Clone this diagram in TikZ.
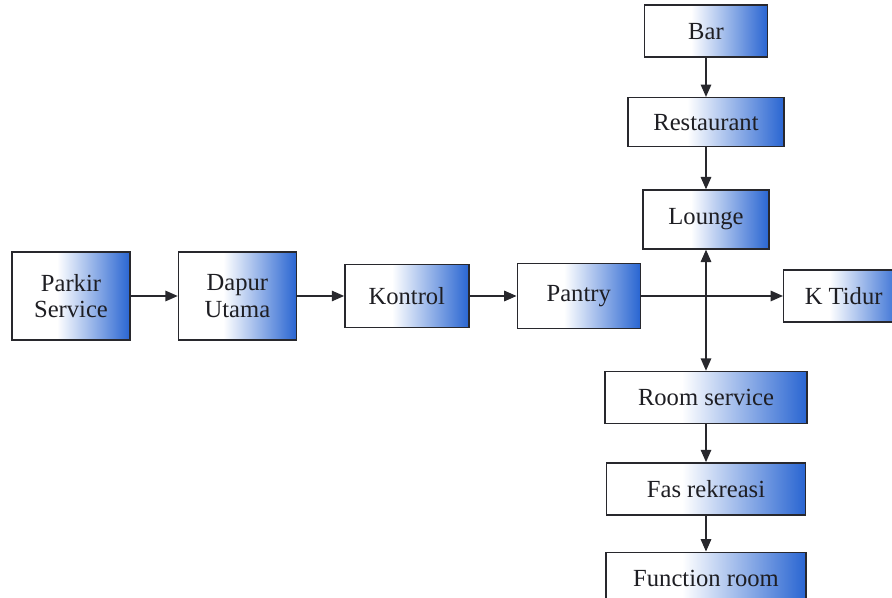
\documentclass[tikz,border=0pt]{standalone}
\usepackage{fontspec}
\setmainfont{Liberation Serif}
\newfontfamily\roomfont{Liberation Serif}
\usepackage{tikz}
\usetikzlibrary{arrows.meta,positioning}
\definecolor{boxblue}{RGB}{34,96,208}
\definecolor{boxline}{RGB}{40,40,45}
\definecolor{textdark}{RGB}{30,30,35}
\pgfdeclarehorizontalshading{boxshade}{100bp}{color(0bp)=(white); color(25bp)=(white);
    color(44bp)=(white); color(76bp)=(boxblue); color(100bp)=(boxblue)}

\begin{document}
\begin{tikzpicture}[
    node distance=0.8cm and 0.94cm,
    room/.style={draw=boxline, line width=0.8pt, shade, shading=boxshade,
                 minimum width=2.46cm, minimum height=1.04cm, inner sep=2pt,
                 align=center, text=textdark, font=\roomfont\fontsize{14}{15}\selectfont},
    arr/.style={-{Triangle[length=7pt, width=6pt]}, line width=0.7pt, boxline},
    dbl/.style={{Triangle[length=7pt, width=6pt]}-{Triangle[length=7pt, width=6pt]},
                line width=0.7pt, boxline},
]
    \useasboundingbox (0,0) rectangle (17.84,-11.96);

    % service chain
    \node[room, minimum width=2.36cm, minimum height=1.76cm] (parkir) at (1.42,-5.92)
        {Parkir\\Service};
    \node[room, minimum width=2.36cm, minimum height=1.76cm, right=of parkir] (dapur)
        {Dapur\\Utama};
    \node[room, minimum width=2.48cm, minimum height=1.26cm, right=of dapur] (kontrol)
        {Kontrol};
    \node[room, minimum height=1.3cm, right=of kontrol] (pantry) {Pantry};
    \node[room, minimum width=2.4cm, right=2.84cm of pantry] (ktidur) {K Tidur};

    % vertical column
    \node[room, minimum width=2.52cm, minimum height=1.18cm] (lounge) at (14.12,-4.39)
        {Lounge};
    \node[room, minimum width=3.12cm, minimum height=0.98cm, above=0.84cm of lounge]
        (restaurant) {Restaurant};
    \node[room, above=0.78cm of restaurant] (bar) {Bar};
    \node[room, minimum width=4.04cm, below=2.42cm of lounge] (roomsrv) {Room service};
    \node[room, minimum width=3.98cm, below=0.76cm of roomsrv] (fas) {Fas rekreasi};
    \node[room, minimum width=4.0cm, below=0.72cm of fas] (function) {Function room};

    \draw[arr] (parkir) -- (dapur);
    \draw[arr] (dapur) -- (kontrol);
    \draw[arr] (kontrol) -- (pantry);
    \draw[arr] (pantry) -- (ktidur);

    \draw[arr] (bar) -- (restaurant);
    \draw[arr] (restaurant) -- (lounge);
    \draw[dbl] (lounge) -- (roomsrv);
    \draw[arr] (roomsrv) -- (fas);
    \draw[arr] (fas) -- (function);
\end{tikzpicture}
\end{document}
